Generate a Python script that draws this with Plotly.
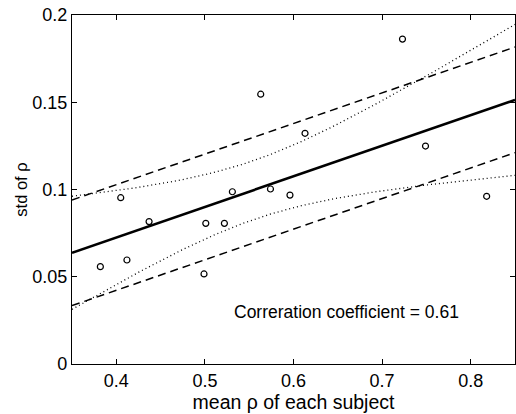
import numpy as np
import plotly.graph_objects as go

# mean correlation per subject and its standard deviation
mean_rho = [0.382, 0.405, 0.412, 0.437, 0.499, 0.501, 0.522, 0.531,
            0.563, 0.574, 0.596, 0.613, 0.723, 0.749, 0.818]
std_rho = [0.0558, 0.0953, 0.0596, 0.0816, 0.0516, 0.0806, 0.0806, 0.0987,
           0.1546, 0.1003, 0.0968, 0.1322, 0.1862, 0.1249, 0.0961]

x_ticks = [0.4, 0.5, 0.6, 0.7, 0.8]
y_ticks = [0, 0.05, 0.1, 0.15, 0.2]
y_tick_text = ["0", "0.05", "0.1", "0.15", "0.2"]

x = np.array(mean_rho)
y = np.array(std_rho)
n = len(x)

# least-squares line
slope, intercept = np.polyfit(x, y, 1)
r = np.corrcoef(x, y)[0, 1]
resid = y - (slope * x + intercept)
s = np.sqrt(np.sum(resid ** 2) / (n - 2))
sxx = np.sum((x - x.mean()) ** 2)
t975 = 2.1604  # Student t, 13 dof

xs = np.linspace(0.35, 0.85, 200)
fit = slope * xs + intercept
se_mean = s * np.sqrt(1.0 / n + (xs - x.mean()) ** 2 / sxx)

fig = go.Figure()

# fit +/- one residual standard deviation
for sign in (1, -1):
    fig.add_trace(go.Scatter(x=xs, y=fit + sign * s, mode="lines",
                             line=dict(color="black", width=1.5, dash="8px,5px")))
# 95% confidence band of the fitted mean
for sign in (1, -1):
    fig.add_trace(go.Scatter(x=xs, y=fit + sign * t975 * se_mean, mode="lines",
                             line=dict(color="black", width=1.3, dash="1px,3px")))
fig.add_trace(go.Scatter(x=xs, y=fit, mode="lines",
                         line=dict(color="black", width=2.6)))
fig.add_trace(go.Scatter(x=mean_rho, y=std_rho, mode="markers",
                         marker=dict(symbol="circle-open", size=6,
                                     color="black", line=dict(width=1.2))))

fig.add_annotation(x=0.531, y=0.0297, xref="x", yref="y",
                   text=f"Correration coefficient = {r:.2f}",
                   showarrow=False, xanchor="left", yanchor="middle",
                   font=dict(size=17.5, color="black"))

axis_common = dict(showline=True, linecolor="black", linewidth=1.2,
                   mirror="allticks", ticks="inside", ticklen=5,
                   tickcolor="black", showgrid=False, zeroline=False,
                   tickfont=dict(size=18, color="black"))

fig.update_xaxes(range=[0.35, 0.85], tickvals=x_ticks,
                 ticktext=[f"{v:.1f}" for v in x_ticks],
                 title=dict(text="mean ρ of each subject", standoff=0,
                            font=dict(size=19.5, color="black")),
                 **axis_common)
fig.update_yaxes(range=[0, 0.2], tickvals=y_ticks, ticktext=y_tick_text,
                 title=dict(text="std of ρ", standoff=0,
                            font=dict(size=16.5, color="black")),
                 **axis_common)

fig.update_layout(width=516, height=414, showlegend=False,
                  margin=dict(l=72, r=1, t=15, b=50),
                  plot_bgcolor="white", paper_bgcolor="white",
                  font=dict(family="Liberation Sans, Arial, sans-serif"))

fig.write_html("out.html")
